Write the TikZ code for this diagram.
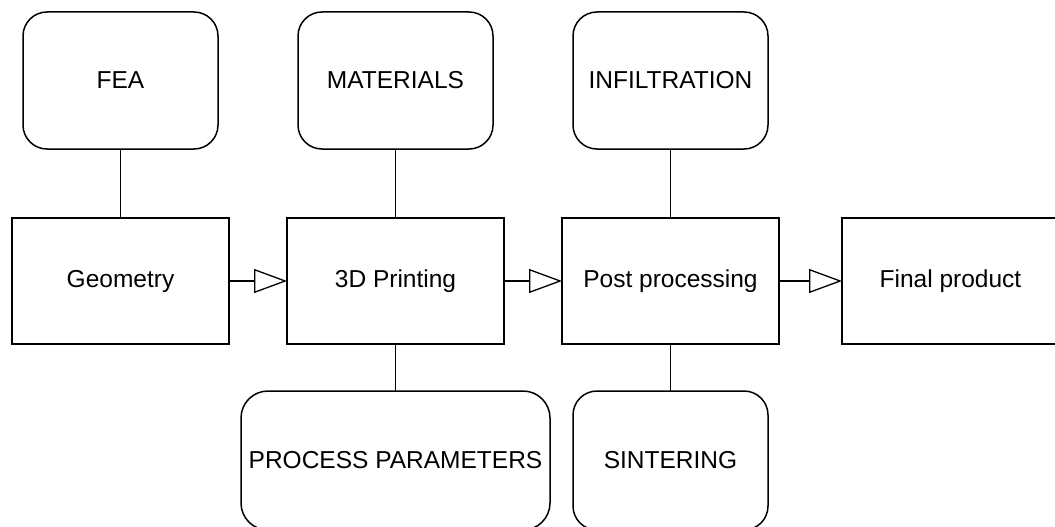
\documentclass[tikz,border=0pt]{standalone}
\usepackage{fontspec}
\setmainfont{Liberation Sans}
\usetikzlibrary{arrows.meta, positioning}

\begin{document}
\begin{tikzpicture}[x=1pt, y=1pt, font=\fontsize{24.5}{29}\selectfont, line width=1.5pt,
    >={Triangle[open, length=33pt, width=24pt, line width=1.3pt]},
    stage/.style={draw, outer sep=0pt, minimum width=217pt, minimum height=126pt, inner sep=2pt},
    factor/.style={draw, outer sep=0pt, rounded corners=24pt, minimum width=195pt, minimum height=137pt, inner sep=2pt}]
    \useasboundingbox (0,0) rectangle (1055,-527);
    \clip (0,0) rectangle (1055,-527);
    % main chain
    \node[stage] (geo) at (120.5,-281) {Geometry};
    \node[stage, right=58pt of geo] (print) {3D Printing};
    \node[stage, right=58pt of print] (post) {Post processing};
    \node[stage, right=63pt of post] (final) {Final product};
    % influences
    \node[factor, above=69pt of geo] (fea) {FEA};
    \node[factor, above=69pt of print] (mat) {MATERIALS};
    \node[factor, above=69pt of post] (infil) {INFILTRATION};
    \node[factor, minimum width=309pt, minimum height=139pt, rounded corners=27pt, below=47pt of print] (param) {PROCESS PARAMETERS};
    \node[factor, minimum height=139pt, below=47pt of post] (sinter) {SINTERING};
    \draw[line width=1.2pt] (fea) -- (geo);
    \draw[line width=1.2pt] (mat) -- (print);
    \draw[line width=1.2pt] (infil) -- (post);
    \draw[line width=1.2pt] (param) -- (print);
    \draw[line width=1.2pt] (sinter) -- (post);
    \draw[->] (geo) -- (print);
    \draw[->] (print) -- (post);
    \draw[->] (post) -- (final);
\end{tikzpicture}
\end{document}
